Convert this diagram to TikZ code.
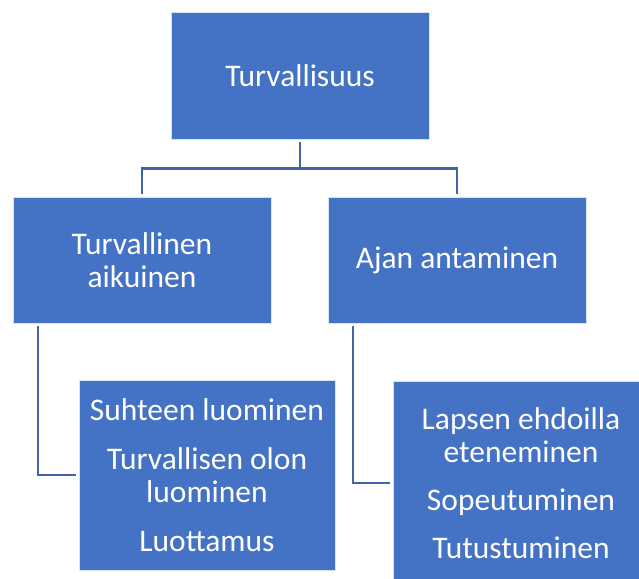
\documentclass[tikz,border=0pt]{standalone}
\usepackage{fontspec}
\setmainfont{Carlito}
\usetikzlibrary{positioning}

\definecolor{boxblue}{RGB}{68,114,196}
\definecolor{linkblue}{RGB}{66,99,165}

\begin{document}
\begin{tikzpicture}[x=1pt, y=-1pt,
    box/.style={draw=white!80!boxblue, line width=0.8pt, fill=boxblue, text=white,
      align=center, inner sep=0pt, font=\fontsize{31.5}{33.5}\selectfont},
    conn/.style={draw=linkblue, line width=2.2pt, shorten <=3pt, shorten >=3pt}]
    \useasboundingbox (0,0) rectangle (639,578);
    \clip (0,0) rectangle (639,578);
    \coordinate (T) at (300,75.5);
    \coordinate (L) at (142,260);
    \coordinate (R) at (457,260);
    \coordinate (LB) at (207,475);
    \coordinate (RB) at (521,483);
    % boxes
    \node (turva) at (T) [box, minimum width=258, minimum height=127] {Turvallisuus};
    \node (aikuinen) at (L) [box, minimum width=258, minimum height=126] {Turvallinen\\aikuinen};
    \node (aika) at (R) [box, minimum width=258, minimum height=126] {Ajan antaminen};
    \node (suhde) at (LB) [box, minimum width=256, minimum height=190]
      {Suhteen luominen\\[15pt]Turvallisen olon\\luominen\\[15pt]Luottamus};
    \node (lapsi) at (RB) [box, minimum width=256, minimum height=204]
      {Lapsen ehdoilla\\eteneminen\\[14pt]Sopeutuminen\\[15pt]Tutustuminen};
    % connectors
    \draw [conn] (turva.south) -- ++(0,29) -| (aikuinen.north);
    \draw [conn] (turva.south) -- ++(0,29) -| (aika.north);
    \draw [conn] ([xshift=25pt]aikuinen.south west) |- (suhde.west);
    \draw [conn] ([xshift=25pt]aika.south west) |- (lapsi.west);
\end{tikzpicture}
\end{document}
